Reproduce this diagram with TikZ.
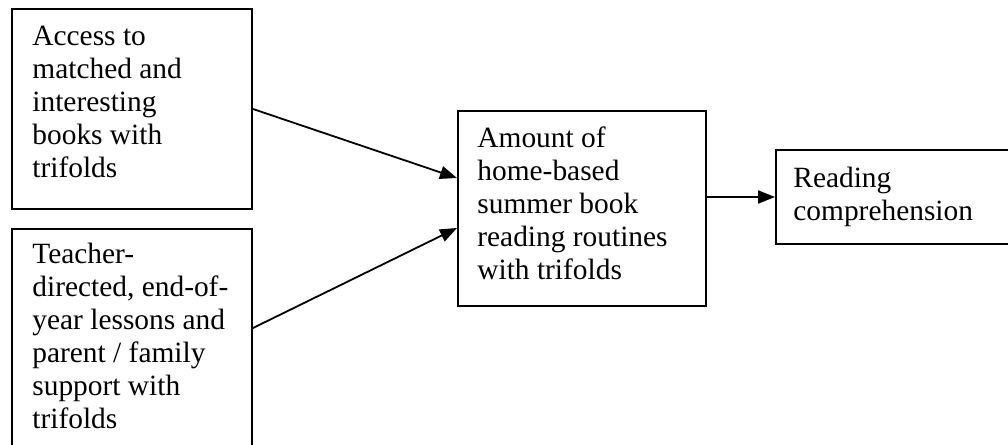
\documentclass[tikz,border=0pt]{standalone}
\usepackage{fontspec}
\setmainfont{Liberation Serif}
\usetikzlibrary{arrows.meta,positioning}
\newcommand{\boxtext}[1]{\parbox[t]{160pt}{\raggedright #1}}
\tikzset{
  box/.style={draw=black, line width=1pt, rectangle, inner sep=0pt, anchor=north west},
  txt/.style={inner sep=0pt, anchor=base west,
    font=\fontsize{14.7pt}{16.5pt}\selectfont},
  arr/.style={line width=0.9pt, -{Triangle[length=8.5pt,width=6.5pt]}}
}
\begin{document}
\begin{tikzpicture}[x=1pt,y=1pt]
\clip (0,0) rectangle (504,-222.5);
\fill[white] (0,0) rectangle (504,-222.5);
% boxes
\node[box, minimum width=120pt, minimum height=100pt] (b1) at (5.5,-4) {};
\node[box, minimum width=120pt, minimum height=116pt] (b2) at (5.5,-114) {};
\node[box, minimum width=124pt, minimum height=97.5pt] (b3) at (228.5,-55) {};
\node[box, minimum width=127.5pt, minimum height=47pt] (b4) at (387.5,-74.5) {};
% texts
\node[txt] (t1) at ([shift={(10.5pt,-18.5pt)}]b1.north west)
  {\boxtext{Access to\\matched and\\interesting\\books with\\trifolds}};
\node[txt] (t2) at ([shift={(10.5pt,-17.5pt)}]b2.north west)
  {\boxtext{Teacher-\\directed, end-of-\\year lessons and\\parent / family\\support with\\trifolds}};
\node[txt] (t3) at ([shift={(10pt,-18.5pt)}]b3.north west)
  {\boxtext{Amount of\\home-based\\summer book\\reading routines\\with trifolds}};
\node[txt] (t4) at ([shift={(9pt,-19pt)}]b4.north west)
  {\boxtext{Reading\\comprehension}};
% connectors
\coordinate (e1) at ([yshift=-34pt]b3.north west);
\coordinate (s2) at ([yshift=-50pt]b2.north east);
\coordinate (e2) at ([yshift=-59pt]b3.north west);
\draw[arr] (b1.east) -- (e1);
\draw[arr] (s2) -- (e2);
\draw[arr] (b3.east |- b4.west) -- (b4.west);
\end{tikzpicture}
\end{document}
